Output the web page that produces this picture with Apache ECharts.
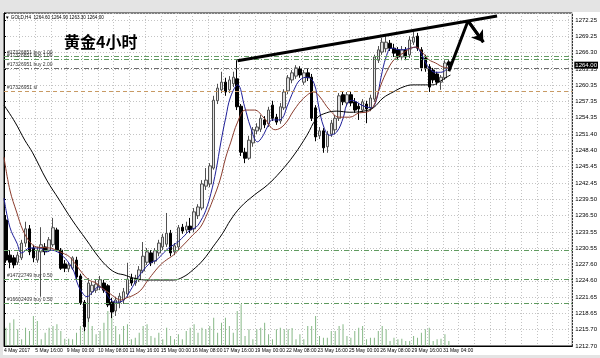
<!DOCTYPE html>
<html><head><meta charset="utf-8">
<script src="https://cdn.jsdelivr.net/npm/echarts@6/dist/echarts.min.js"></script>
<style>html,body{margin:0;padding:0;background:#fff}#c{width:600px;height:358px}</style>
</head><body><div id="c"></div>
<script>
// ---------- DATA ----------
const header = '\u25BC GOLD,H4  1264.60 1264.90 1263.30 1264.00';
const titleText = '黄金4小时';
const priceTicks = ['1212.70','1215.70','1218.65','1221.65','1224.60','1227.60','1230.55','1233.55','1236.50','1239.50','1242.45','1245.45','1248.40','1251.40','1254.35','1257.35','1260.35','1263.35','1266.30','1269.25','1272.25'];
const dateLabels = ['4 May 2017','5 May 16:00','9 May 00:00','10 May 08:00','11 May 16:00','15 May 00:00','16 May 08:00','17 May 16:00','19 May 00:00','22 May 08:00','23 May 16:00','25 May 00:00','26 May 08:00','29 May 16:00','31 May 04:00'];
// [open, close, low, high]
const candles = [
[1235.7,1228.4,1227.9,1236.6],[1229.3,1228.0,1226.9,1230.2],[1228.8,1227.5,1226.9,1229.3],[1228.0,1229.3,1227.5,1229.9],
[1228.8,1231.5,1228.4,1232.1],[1231.5,1234.1,1230.8,1235.4],[1234.1,1229.9,1229.3,1234.8],[1230.6,1228.8,1228.0,1231.2],
[1228.4,1230.2,1227.9,1230.8],[1229.9,1231.2,1221.7,1234.4],[1230.8,1229.9,1229.3,1231.5],[1230.2,1232.1,1229.9,1232.6],
[1231.2,1234.3,1230.8,1236.1],[1233.9,1230.2,1229.9,1234.3],[1230.2,1226.9,1226.6,1230.6],[1227.7,1226.9,1226.2,1228.4],
[1226.8,1227.5,1226.2,1228.0],[1226.9,1228.8,1226.6,1229.1],[1228.4,1225.3,1224.8,1229.0],[1225.5,1220.6,1220.2,1225.9],
[1220.7,1216.2,1215.4,1221.1],[1217.8,1224.2,1217.1,1225.1],[1222.6,1223.8,1222.0,1224.4],[1222.9,1224.0,1222.4,1224.8],
[1223.5,1224.8,1222.9,1225.5],[1224.2,1222.9,1222.4,1224.8],[1223.7,1220.2,1219.8,1224.0],[1220.7,1218.9,1217.8,1221.5],
[1219.1,1221.1,1218.2,1221.7],[1220.6,1221.8,1219.6,1222.4],[1221.1,1222.6,1220.4,1223.3],[1222.2,1224.9,1221.7,1227.9],
[1225.1,1224.2,1223.7,1225.9],[1224.2,1225.1,1223.7,1225.7],[1224.8,1226.6,1224.4,1227.3],[1226.4,1229.1,1226.0,1231.7],
[1228.0,1229.9,1227.5,1230.6],[1229.7,1227.9,1227.3,1230.2],[1228.2,1230.1,1227.7,1230.6],[1229.7,1231.5,1229.1,1232.1],
[1230.8,1232.6,1230.2,1233.2],[1231.3,1233.3,1230.8,1237.0],[1233.3,1229.7,1229.1,1233.9],[1229.9,1231.0,1229.3,1231.5],
[1230.8,1234.3,1230.2,1234.8],[1234.4,1233.7,1233.2,1235.0],[1233.9,1234.6,1233.3,1235.4],[1234.6,1233.9,1233.3,1236.1],
[1234.1,1237.2,1233.5,1237.9],[1236.5,1238.1,1235.9,1238.6],[1237.9,1242.3,1237.5,1243.0],[1241.9,1243.0,1241.2,1245.2],
[1242.3,1245.6,1241.7,1246.1],[1245.2,1257.6,1244.9,1258.4],[1257.5,1259.8,1256.9,1260.6],[1259.5,1260.9,1258.9,1262.8],
[1260.9,1259.1,1258.4,1261.7],[1259.5,1261.3,1258.9,1262.0],[1260.6,1261.8,1260.0,1262.8],[1261.5,1256.4,1255.8,1264.9],
[1256.5,1248.1,1247.4,1256.9],[1248.1,1247.0,1246.1,1248.9],[1247.0,1250.3,1246.7,1251.1],[1249.8,1252.2,1249.1,1252.7],
[1252.0,1252.7,1251.4,1253.4],[1252.3,1254.3,1251.8,1254.9],[1254.0,1253.1,1252.5,1254.7],[1253.3,1255.8,1252.7,1256.4],
[1256.7,1254.3,1253.8,1257.5],[1254.5,1253.6,1253.1,1255.1],[1253.8,1256.4,1253.3,1257.1],[1256.2,1259.1,1255.8,1259.6],
[1259.3,1261.7,1258.7,1262.2],[1261.3,1262.6,1260.7,1263.1],[1262.0,1263.5,1261.5,1264.0],[1263.3,1262.2,1261.7,1263.8],
[1260.9,1262.6,1260.4,1263.1],[1262.6,1261.7,1261.1,1263.3],[1261.8,1254.3,1253.8,1262.4],[1256.2,1250.9,1250.1,1256.7],
[1251.1,1252.0,1250.5,1252.7],[1252.0,1248.9,1248.0,1252.5],[1249.1,1251.4,1248.0,1252.0],[1251.4,1253.4,1250.9,1254.0],
[1252.2,1254.3,1251.4,1254.9],[1254.3,1258.4,1253.8,1258.9],[1258.6,1257.3,1256.7,1259.1],[1257.1,1258.6,1256.5,1259.1],
[1258.6,1257.1,1256.5,1259.1],[1257.3,1255.8,1255.3,1258.0],[1256.5,1256.0,1254.0,1257.1],[1255.8,1257.3,1255.3,1257.8],
[1256.9,1256.0,1253.4,1257.5],[1256.2,1258.0,1255.6,1258.6],[1257.8,1265.5,1257.3,1265.9],[1264.9,1266.8,1264.4,1267.5],
[1266.4,1268.2,1265.9,1269.0],[1267.0,1268.2,1266.4,1269.5],[1268.0,1267.1,1266.6,1268.6],[1267.1,1266.2,1265.5,1267.9],
[1266.8,1265.5,1264.9,1267.3],[1265.5,1266.8,1264.9,1267.5],[1266.8,1265.5,1264.9,1267.3],[1265.9,1268.6,1265.3,1269.3],
[1268.2,1269.1,1267.7,1270.1],[1269.3,1267.1,1266.6,1269.9],[1266.8,1263.5,1262.9,1267.3],[1265.3,1263.5,1262.8,1265.9],
[1263.7,1260.0,1259.1,1264.2],[1263.1,1261.3,1260.7,1263.5],[1262.4,1260.9,1260.4,1262.8],[1260.9,1261.8,1259.5,1262.2],
[1261.7,1264.4,1261.3,1264.9],[1264.6,1264.0,1263.3,1264.9]
];
const volumes = [1830,2330,2670,1670,670,1830,1500,3000,2500,670,
1330,1830,2000,2170,1500,730,730,670,1330,2000,
3670,3170,2000,1170,1500,2330,3500,3170,2000,1170,
2000,2170,670,830,1330,2000,2170,1000,830,
1330,670,1830,1000,670,1170,670,1500,1830,2170,
1330,1830,1670,2000,2830,1330,2330,2830,2000,1330,
3500,4170,1000,1670,670,1670,1830,2330,1170,670,
1670,1830,1670,1670,1800,
670,1170,670,2000,2000,3000,1000,830,830,1500,
1500,2000,2170,1000,830,1500,1830,2000,670,830,
830,1500,2000,1670,500,830,670,730,500,500,
1000,830,1330,1670,1830,500,670,730,1170,500];
// moving averages: [bar index, price]
const maFast = [[-0.5,1239.7],[1.0,1234.4],[2.8,1231.5],[4.0,1229.7],[6.1,1230.6],[8.6,1230.6],[10.4,1229.9],[11.6,1230.2],[13.1,1229.9],[14.7,1229.0],[16.2,1227.7],[17.4,1226.2],[18.2,1224.2],[19.5,1222.4],[20.7,1221.7],[21.9,1222.4],[23.7,1223.5],[25.0,1222.9],[26.8,1221.1],[28.3,1220.7],[30.1,1221.1],[31.8,1222.9],[33.3,1224.75],[35.1,1226.6],[36.9,1227.9],[38.4,1228.4],[40.2,1229.7],[41.9,1230.8],[43.5,1231.5],[45.2,1232.6],[47.0,1233.9],[48.5,1234.4],[49.8,1235.7],[51.0,1237.5],[52.3,1240.6],[53.6,1244.8],[54.8,1249.8],[56.1,1254.5],[57.3,1258.2],[59.1,1260.4],[60.9,1256.4],[62.4,1252.7],[64.2,1250.0],[65.4,1250.9],[66.7,1252.7],[67.9,1254.0],[69.2,1254.0],[70.5,1254.3],[71.7,1256.4],[73.5,1259.5],[75.0,1261.3],[76.8,1261.8],[78.6,1260.7],[79.8,1256.4],[81.1,1252.7],[82.6,1251.2],[84.4,1251.8],[86.1,1254.5],[86.9,1256.7],[88.2,1257.6],[89.4,1257.3],[90.7,1256.7],[91.9,1256.4],[93.2,1256.2],[94.5,1257.6],[95.7,1261.8],[97.0,1265.5],[98.3,1267.1],[100.8,1266.8],[103.3,1267.1],[104.6,1267.3],[105.9,1266.2],[107.1,1264.4],[108.4,1263.1],[109.6,1262.7],[110.9,1262.7],[112.2,1263.1],[113.0,1263.7]];
const maMid = [[-0.5,1247.2],[1.0,1241.2],[2.8,1237.0],[4.3,1233.9],[6.1,1231.7],[7.8,1230.8],[11.1,1230.6],[12.9,1230.2],[14.4,1229.7],[16.2,1229.0],[17.9,1227.5],[19.5,1226.0],[21.2,1224.75],[23.0,1224.2],[24.5,1223.3],[26.3,1222.4],[28.0,1221.5],[29.3,1221.1],[30.8,1221.5],[32.6,1222.0],[34.4,1222.9],[35.9,1224.4],[37.6,1226.0],[39.4,1227.5],[40.9,1228.4],[42.7,1229.3],[44.5,1230.6],[46.0,1231.7],[47.7,1233.0],[49.5,1234.3],[51.0,1236.3],[52.8,1239.4],[54.6,1243.0],[56.1,1247.2],[57.3,1249.8],[59.1,1253.6],[61.1,1255.8],[63.4,1255.8],[65.9,1254.3],[68.7,1252.2],[71.0,1253.1],[73.5,1255.8],[76.0,1258.0],[78.6,1259.1],[80.1,1258.2],[82.6,1255.8],[85.1,1254.5],[87.7,1254.5],[90.2,1255.3],[91.9,1255.4],[93.7,1256.4],[95.2,1259.5],[97.0,1262.6],[99.0,1265.0],[101.3,1266.2],[103.3,1267.1],[104.6,1267.3],[106.4,1266.2],[107.9,1265.0],[109.6,1264.4],[111.4,1263.7],[113.0,1263.5]];
const maSlow = [[-0.5,1256.7],[2.3,1253.6],[4.8,1250.3],[6.8,1248.0],[10.4,1243.0],[13.6,1239.4],[16.9,1235.7],[20.5,1232.1],[23.7,1228.9],[26.3,1226.9],[28.3,1226.0],[30.1,1225.7],[32.6,1225.1],[35.9,1224.75],[39.4,1224.75],[42.7,1224.75],[45.2,1225.3],[47.7,1226.6],[50.3,1228.4],[52.8,1230.8],[55.3,1233.3],[57.3,1235.7],[59.9,1238.1],[63.4,1240.3],[66.7,1242.1],[70.0,1244.5],[73.5,1247.6],[76.8,1251.2],[79.3,1254.3],[81.8,1255.3],[84.4,1255.6],[87.7,1255.4],[91.2,1255.6],[93.7,1256.2],[96.2,1258.0],[98.8,1259.1],[101.3,1260.0],[103.8,1260.4],[106.4,1260.4],[108.9,1260.4],[110.4,1260.9],[112.2,1261.7],[113.4,1262.2]];
const trendLine = [[59.1,1264.8],[125.3,1273.0]];
const arrowPath = [[113.0,1262.9],[117.9,1272.1],[121.8,1268.2]];
const orderLines = [
  {price:1265.67, text:'#17326851 buy 1.00', kind:'open'},
  {price:1265.12, text:'#17326851 buy 1.00', kind:'open'},
  {price:1263.39, text:'#17326951 buy 2.00', kind:'dark'},
  {price:1259.19, text:'#17326951 sl', kind:'sl'},
  {price:1230.20, text:'', kind:'open'},
  {price:1224.90, text:'#14722749 buy 0.50', kind:'open'},
  {price:1220.50, text:'#16602409 buy 0.50', kind:'open'}
];
const lastPrice = 1264.00;

// ---------- CHART ----------
const SLOTS = 145;
const yMin = 1212.70, yStep = 2.9775, yMax = 1273.53;
const slots = Array.from({length: SLOTS}, (_, i) => String(i));
const toSlot = pts => pts.map(([i, p]) => [i + 0.5, p]);
const lineStyles = {
  open: {color:'#5f9a5f', type:[5,2,1,2], width:1},
  dark: {color:'#6a6a6a', type:[5,2,1,2], width:1},
  sl:   {color:'#c89a64', type:[4,3], width:1}
};
const gridStyle = {color:'#c4c4c4', type:[1,2], width:1};
const small = 'Liberation Sans, Arial, sans-serif';

const chart = echarts.init(document.getElementById('c'), null, {renderer:'canvas'});
chart.setOption({
  animation:false,
  backgroundColor:'#ffffff',
  textStyle:{fontFamily:small},
  title:[
    {text:header, left:5, top:15, padding:0, textStyle:{fontSize:4.6, fontWeight:'normal', color:'#000', fontFamily:small}},
    {text:titleText, left:64, top:34, padding:0, textStyle:{fontSize:16, fontWeight:'bold', color:'#000', fontFamily:'Noto Sans CJK SC'}}
  ],
  graphic:[
    {type:'rect', shape:{x:0, y:0, width:600, height:12}, style:{fill:'#e4e4e4'}, silent:true},
    {type:'rect', shape:{x:0, y:0, width:3, height:358}, style:{fill:'#e4e4e4'}, silent:true},
    {type:'rect', shape:{x:0, y:355, width:600, height:3}, style:{fill:'#e4e4e4'}, silent:true}
  ],
  grid:{left:4, right:22, top:13, bottom:12, show:true, borderColor:'#000', borderWidth:1, backgroundColor:'transparent'},
  xAxis:[
    {type:'category', data:slots, boundaryGap:true,
     axisLine:{show:true, lineStyle:{color:'#000'}}, axisTick:{show:false}, axisLabel:{show:false}, splitLine:{show:false}},
    {type:'value', min:0, max:SLOTS, interval:4, position:'bottom',
     axisLine:{show:false}, axisTick:{show:false},
     splitLine:{show:true, lineStyle:gridStyle},
     axisLabel:{show:true, fontSize:5, color:'#000', margin:2, align:'left', fontFamily:small,
       showMinLabel:true, showMaxLabel:false, hideOverlap:false,
       formatter:function(v){ const k = Math.round(v); if (Math.abs(v-k)>1e-6 || k%8!==0) return ''; const n=k/8; return n<dateLabels.length?dateLabels[n]:''; }}}
  ],
  yAxis:[
    {type:'value', position:'right', min:yMin, max:yMax, interval:yStep,
     axisLine:{show:true, lineStyle:{color:'#000'}},
     axisTick:{show:true, length:2, lineStyle:{color:'#000'}},
     splitLine:{show:true, lineStyle:gridStyle},
     axisLabel:{fontSize:6, margin:3, color:'#000', fontFamily:small, showMaxLabel:true, showMinLabel:true,
       formatter:function(v){ const k=Math.round((v-yMin)/yStep); if (Math.abs(v-(yMin+k*yStep))>0.01) return ''; return (k>=0&&k<priceTicks.length)?priceTicks[k]:''; }}},
    {type:'value', min:0, max:33300, show:false}
  ],
  series:[
    {type:'bar', name:'Volume', xAxisIndex:0, yAxisIndex:1, data:volumes, barWidth:1, silent:true,
     itemStyle:{color:'#86b886'}, z:1},
    {type:'candlestick', name:'GOLD', xAxisIndex:0, yAxisIndex:0, data:candles, barWidth:3, silent:true,
     itemStyle:{color:'#e2e2e2', color0:'#000000', borderColor:'#505050', borderColor0:'#000000', borderWidth:1},
     markLine:{symbol:'none', silent:true, animation:false,
       label:{position:'insideStartTop', fontSize:5, color:'#333', distance:[3,1], fontFamily:small},
       data: orderLines.map(o => ({yAxis:o.price, lineStyle:lineStyles[o.kind], label:{show:o.text!=='', formatter:o.text}}))
     }, z:3},
    {type:'line', name:'Last', xAxisIndex:1, yAxisIndex:0, data:[], silent:true, z:8,
     markLine:{symbol:'none', silent:true, animation:false,
       data:[{yAxis:lastPrice, lineStyle:{color:'rgba(0,0,0,0)', width:0, opacity:1},
         label:{show:true, position:'end', distance:2, formatter:lastPrice.toFixed(2), backgroundColor:'#000', color:'#fff', fontSize:6, padding:[1,1,0,1], fontFamily:small}}]}},
    {type:'line', name:'MA fast', xAxisIndex:1, yAxisIndex:0, data:toSlot(maFast), smooth:0.4, showSymbol:false, silent:true,
     lineStyle:{color:'#1e1e98', width:1}, z:4},
    {type:'line', name:'MA mid', xAxisIndex:1, yAxisIndex:0, data:toSlot(maMid), smooth:0.4, showSymbol:false, silent:true,
     lineStyle:{color:'#8a3b2c', width:1}, z:4},
    {type:'line', name:'MA slow', xAxisIndex:1, yAxisIndex:0, data:toSlot(maSlow), smooth:0.4, showSymbol:false, silent:true,
     lineStyle:{color:'#000000', width:1}, z:4},
    {type:'line', name:'Trend', xAxisIndex:1, yAxisIndex:0, data:toSlot(trendLine), showSymbol:false, silent:true,
     lineStyle:{color:'#000', width:3}, z:6},
    {type:'line', name:'Arrow', xAxisIndex:1, yAxisIndex:0, data:toSlot(arrowPath), showSymbol:false, silent:true,
     lineStyle:{color:'#000', width:3}, z:6},
    {type:'lines', coordinateSystem:'cartesian2d', xAxisIndex:1, yAxisIndex:0, silent:true,
     symbol:['none','arrow'], symbolSize:11,
     lineStyle:{color:'#000', width:3, opacity:1},
     data:[{coords:toSlot(arrowPath.slice(1))}], z:7}
  ]
});
</script></body></html>
